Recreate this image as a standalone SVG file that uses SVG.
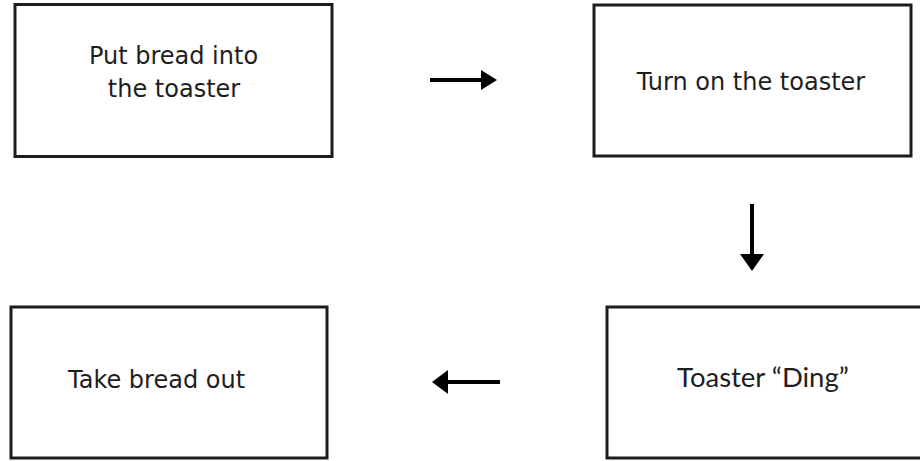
<svg xmlns="http://www.w3.org/2000/svg" width="920" height="461" viewBox="0 0 920 461">
  <style>
    .box { fill: #ffffff; stroke: #1c1c1c; stroke-width: 3; }
    .label { font-family: "DejaVu Sans", "Liberation Sans", sans-serif; font-size: 24px; fill: #1e1e1e; }
    .label-alt { font-family: Lato, "Open Sans", sans-serif; font-size: 27.5px; fill: #1e1e1e; }
    .shaft { stroke: #000000; stroke-width: 4; fill: none; }
    .head { fill: #000000; }
  </style>
  <rect width="920" height="461" fill="#ffffff"/>

  <g id="node-put-bread">
    <rect class="box" x="15" y="4.5" width="317" height="152"/>
    <text class="label" x="173.5" y="64" text-anchor="middle">Put bread into</text>
    <text class="label" x="174" y="97" text-anchor="middle">the toaster</text>
  </g>

  <g id="node-turn-on">
    <rect class="box" x="594" y="5" width="317" height="151"/>
    <text class="label" x="751" y="90" text-anchor="middle">Turn on the toaster</text>
  </g>

  <g id="node-ding">
    <rect class="box" x="607" y="307" width="320" height="151"/>
    <text class="label-alt" x="677" y="387">Toaster “Ding”</text>
  </g>

  <g id="node-take-out">
    <rect class="box" x="11" y="307" width="316" height="151"/>
    <text class="label" x="68" y="388">Take bread out</text>
  </g>

  <g id="connectors">
    <line class="shaft" x1="430" y1="80" x2="484" y2="80"/>
    <polygon class="head" points="481,70 497,80 481,90"/>
    <line class="shaft" x1="752" y1="204" x2="752" y2="257"/>
    <polygon class="head" points="740,254 764,254 752,271"/>
    <line class="shaft" x1="500" y1="382" x2="445" y2="382"/>
    <polygon class="head" points="448,370 432,382 448,394"/>
  </g>
</svg>
